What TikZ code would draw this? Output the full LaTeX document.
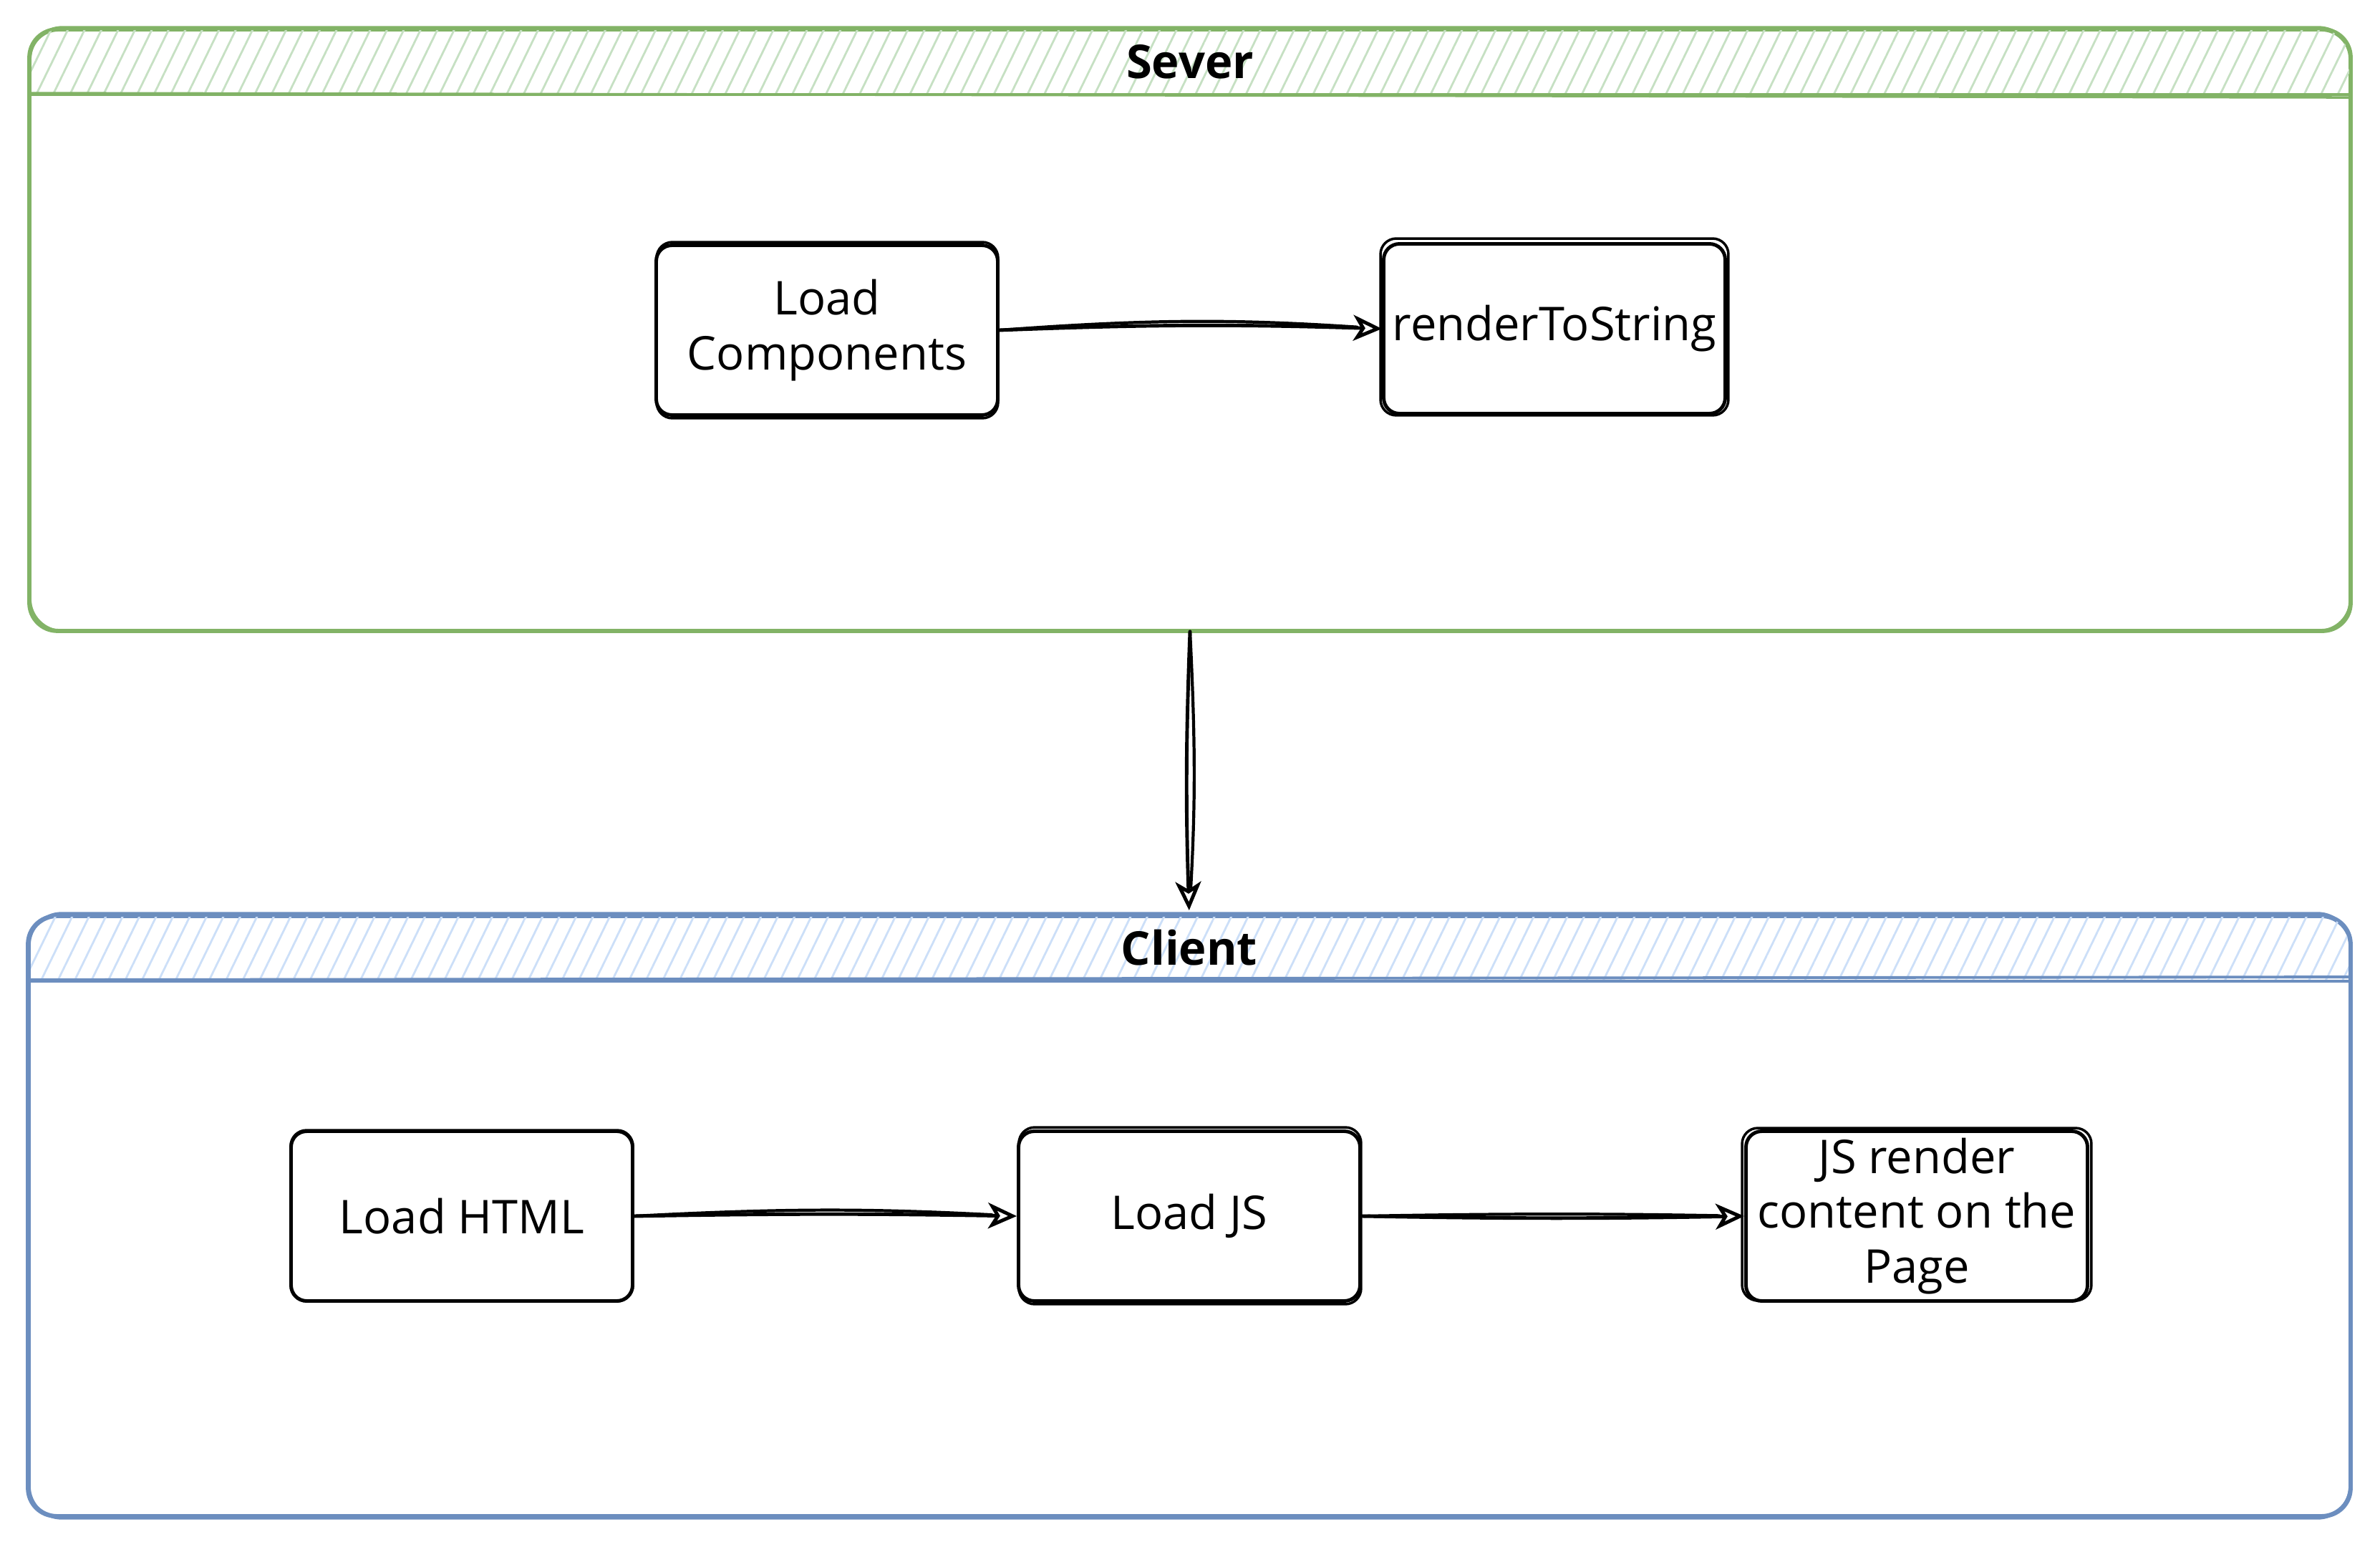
\documentclass[tikz,border=0pt]{standalone}
\usepackage{fontspec}
\setmainfont{Open Sans}
\usetikzlibrary{calc,arrows.meta,patterns.meta}

\definecolor{sgreen}{HTML}{82B366}
\definecolor{sgreenfill}{HTML}{C6E0C3}
\definecolor{cblue}{HTML}{6C8EBF}
\definecolor{cbluefill}{HTML}{CCDFF8}

\tikzset{
  stepbox/.style={draw=black, line width=1.4pt, rounded corners=0.22cm,
    minimum width=4.77cm, minimum height=2.37cm, align=center, inner sep=0pt,
    font=\fontsize{18.5}{21.8}\selectfont},
  lane/.style={draw=#1, line width=1.1pt, rounded corners=0.4cm, inner sep=0pt},
  lanetitle/.style={font=\bfseries\fontsize{18.5}{21.8}\selectfont},
  hatch/.style={pattern={Lines[angle=64,distance=6pt,line width=0.8pt]}, pattern color=#1},
  flow/.style={draw=black, line width=1.4pt, line cap=round,
    -{Stealth[open,length=0.4cm,width=0.36cm,inset=0.11cm]}},
  flowecho/.style={draw=black, line width=1.2pt, line cap=round},
  echoline/.style={draw=#1, line width=1.0pt, rounded corners=0.22cm},
}

% second, slightly shifted stroke round a node, for the hand-drawn look
\newcommand\retrace[4]{%
  \draw[echoline=#2] ($(#1.south west)+(#3)$) rectangle ($(#1.north east)+(#4)$);}

\begin{document}
\begin{tikzpicture}
\useasboundingbox (0,0) rectangle (33.24,-21.6);

% ---------- lanes ----------
\node[lane=sgreen, minimum width=32.4cm, minimum height=8.38cm] (sever) at (16.62,-4.61) {};
\node[lane=cblue, minimum width=32.42cm, minimum height=8.36cm] (client) at (16.61,-16.98) {};

% hatched title strips
\begin{scope}
  \clip[rounded corners=0.4cm] (sever.south west) rectangle (sever.north east);
  \fill[hatch=sgreenfill] (sever.north west) rectangle ($(sever.north east)+(0,-0.92)$);
\end{scope}
\begin{scope}
  \clip[rounded corners=0.4cm] (client.south west) rectangle (client.north east);
  \fill[hatch=cbluefill] (client.north west) rectangle ($(client.north east)+(0,-0.90)$);
\end{scope}

% lane outlines, traced twice
\draw[sgreen, line width=1.1pt, rounded corners=0.4cm] (sever.south west) rectangle (sever.north east);
\draw[sgreen, line width=1.0pt, rounded corners=0.45cm]
  ($(sever.south west)+(0.02,0.01)$) rectangle ($(sever.north east)+(-0.01,0.02)$);
\draw[cblue, line width=1.1pt, rounded corners=0.4cm] (client.south west) rectangle (client.north east);
\draw[cblue, line width=1.0pt, rounded corners=0.45cm]
  ($(client.south west)+(0.03,-0.02)$) rectangle ($(client.north east)+(-0.02,0.03)$);

% title strip separators
\draw[sgreen, line width=1.1pt] ($(sever.north west)+(0,-0.92)$) -- ($(sever.north east)+(0,-0.92)$);
\draw[sgreen, line width=1.0pt] ($(sever.north west)+(0,-0.90)$) -- ($(sever.north east)+(0,-0.96)$);
\draw[cblue, line width=1.1pt] ($(client.north west)+(0,-0.90)$) -- ($(client.north east)+(0,-0.86)$);
\draw[cblue, line width=1.0pt] ($(client.north west)+(0,-0.92)$) -- ($(client.north east)+(0,-0.92)$);

\node[lanetitle] (severlabel) at ($(sever.north)+(0,-0.46)$) {Sever};
\node[lanetitle] (clientlabel) at ($(client.north)+(0,-0.45)$) {Client};

% ---------- steps ----------
\node[stepbox] (loadcomp) at (11.55,-4.61) {Load\\Components};
\node[stepbox] (r2s) at (21.71,-4.59) {renderToString};
\node[stepbox] (loadhtml) at (6.45,-16.98) {Load HTML};
\node[stepbox] (loadjs) at (16.61,-16.98) {Load JS};
\node[stepbox] (jsrender) at (26.77,-16.98) {JS render\\content on the\\Page};

\retrace{loadcomp}{black}{0.03,-0.02}{-0.02,0.02}
\retrace{r2s}{black}{-0.02,0.0}{0.02,0.05}
\retrace{loadhtml}{black}{0.02,0.02}{-0.02,-0.01}
\retrace{loadjs}{black}{0.03,-0.02}{-0.01,0.03}
\retrace{jsrender}{black}{-0.03,0.03}{0.03,0.02}

% ---------- connectors ----------
\draw[flow, shorten >=0.07cm] (sever.south) to[bend right=2] (client.north);
\draw[flowecho, shorten >=0.4cm] (sever.south) to[bend left=3] (client.north);

\draw[flow] (loadcomp.east) to[bend left=2] (r2s.west);
\draw[flowecho, shorten >=0.35cm] (loadcomp.east) to[bend left=4] (r2s.west);

\draw[flow] (loadhtml.east) to[bend left=1] (loadjs.west);
\draw[flowecho, shorten >=0.35cm] (loadhtml.east) to[bend left=3] (loadjs.west);

\draw[flow] (loadjs.east) to[bend right=1] (jsrender.west);
\draw[flowecho, shorten >=0.35cm] (loadjs.east) to[bend left=1] (jsrender.west);
\end{tikzpicture}
\end{document}
